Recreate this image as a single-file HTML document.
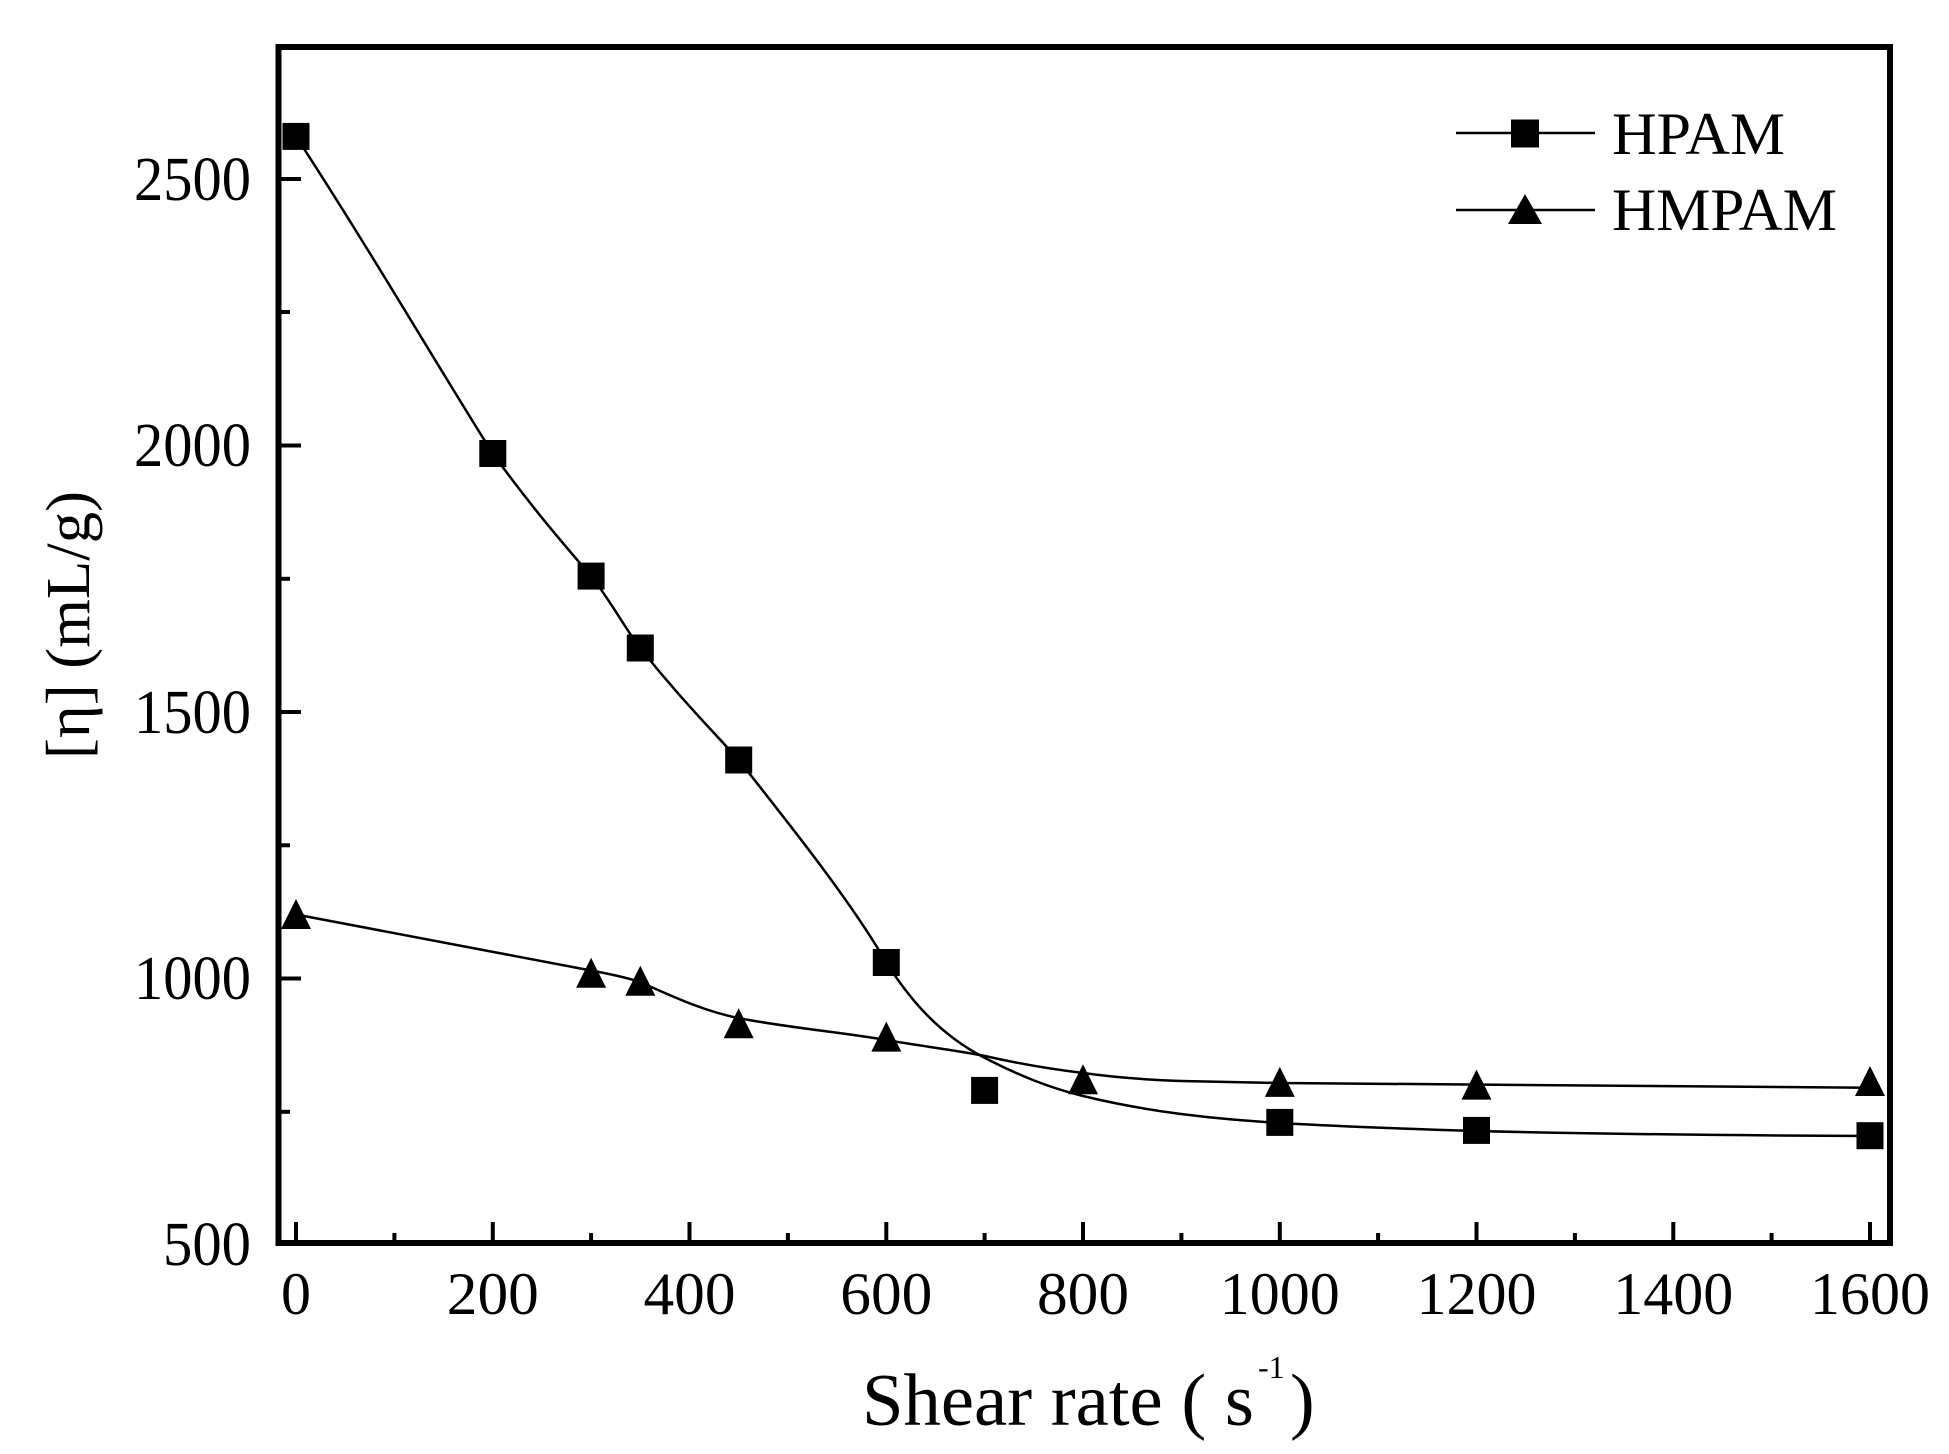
<!DOCTYPE html>
<html><head><meta charset="utf-8"><style>
html,body{margin:0;padding:0;background:#fff;}
svg{display:block;}
text{font-family:"Liberation Serif",serif;fill:#000;}
</style></head><body>
<svg width="1949" height="1454" viewBox="0 0 1949 1454" xmlns="http://www.w3.org/2000/svg">
<rect width="1949" height="1454" fill="#fff"/>
<rect x="278.5" y="47" width="1611.5" height="1196" fill="none" stroke="#000" stroke-width="6"/>
<g stroke="#000" stroke-width="4">
<line x1="296" y1="1243" x2="296" y2="1222"/>
<line x1="394.4" y1="1243" x2="394.4" y2="1233"/>
<line x1="492.8" y1="1243" x2="492.8" y2="1222"/>
<line x1="591.1" y1="1243" x2="591.1" y2="1233"/>
<line x1="689.5" y1="1243" x2="689.5" y2="1222"/>
<line x1="787.9" y1="1243" x2="787.9" y2="1233"/>
<line x1="886.3" y1="1243" x2="886.3" y2="1222"/>
<line x1="984.6" y1="1243" x2="984.6" y2="1233"/>
<line x1="1083" y1="1243" x2="1083" y2="1222"/>
<line x1="1181.4" y1="1243" x2="1181.4" y2="1233"/>
<line x1="1279.8" y1="1243" x2="1279.8" y2="1222"/>
<line x1="1378.1" y1="1243" x2="1378.1" y2="1233"/>
<line x1="1476.5" y1="1243" x2="1476.5" y2="1222"/>
<line x1="1574.9" y1="1243" x2="1574.9" y2="1233"/>
<line x1="1673.3" y1="1243" x2="1673.3" y2="1222"/>
<line x1="1771.6" y1="1243" x2="1771.6" y2="1233"/>
<line x1="1870" y1="1243" x2="1870" y2="1222"/>
<line x1="278" y1="179" x2="301" y2="179"/>
<line x1="278" y1="312" x2="290" y2="312"/>
<line x1="278" y1="445.5" x2="301" y2="445.5"/>
<line x1="278" y1="578.8" x2="290" y2="578.8"/>
<line x1="278" y1="712" x2="301" y2="712"/>
<line x1="278" y1="845.3" x2="290" y2="845.3"/>
<line x1="278" y1="978.5" x2="301" y2="978.5"/>
<line x1="278" y1="1111.8" x2="290" y2="1111.8"/>
</g>
<g font-size="60" text-anchor="middle">
<text x="296" y="1314">0</text>
<text x="492.8" y="1314" textLength="92" lengthAdjust="spacingAndGlyphs">200</text>
<text x="689.5" y="1314" textLength="92" lengthAdjust="spacingAndGlyphs">400</text>
<text x="886.3" y="1314" textLength="92" lengthAdjust="spacingAndGlyphs">600</text>
<text x="1083" y="1314" textLength="92" lengthAdjust="spacingAndGlyphs">800</text>
<text x="1279.8" y="1314" textLength="120" lengthAdjust="spacingAndGlyphs">1000</text>
<text x="1476.5" y="1314" textLength="120" lengthAdjust="spacingAndGlyphs">1200</text>
<text x="1673.3" y="1314" textLength="120" lengthAdjust="spacingAndGlyphs">1400</text>
<text x="1870" y="1314" textLength="120" lengthAdjust="spacingAndGlyphs">1600</text>
</g>
<g font-size="62" text-anchor="end">
<text x="251" y="200" textLength="117" lengthAdjust="spacingAndGlyphs">2500</text>
<text x="251" y="466" textLength="117" lengthAdjust="spacingAndGlyphs">2000</text>
<text x="251" y="733" textLength="117" lengthAdjust="spacingAndGlyphs">1500</text>
<text x="251" y="999" textLength="117" lengthAdjust="spacingAndGlyphs">1000</text>
<text x="251" y="1265" textLength="88" lengthAdjust="spacingAndGlyphs">500</text>
</g>
<text x="862" y="1425" font-size="74" textLength="392" lengthAdjust="spacingAndGlyphs">Shear rate ( s</text>
<text x="1258" y="1378" font-size="32">-1</text>
<text x="1290" y="1425" font-size="74">)</text>
<text transform="translate(89,625) rotate(-90)" font-size="62" text-anchor="middle" textLength="268" lengthAdjust="spacingAndGlyphs">[η] (mL/g)</text>
<g fill="none" stroke="#000" stroke-width="2.5" stroke-linejoin="round">
<path d="M296,136.4 C370,250 440,370 492.8,453.5 C530,505 560,540 591,576 C610,600 625,628 640,648 C680,698 710,728 738.7,760 C790,825 850,900 886,962 C910,1000 940,1035 985,1058 C1020,1076 1050,1088 1083,1096 C1120,1105 1150,1110 1181,1114 C1220,1119 1250,1121 1280,1123 C1350,1127 1410,1129 1476,1131 C1600,1134 1750,1135.5 1870,1136"/>
<path d="M296,914.5 L591,970.5 C610,974 625,977 640,982 C670,995 700,1010 738,1018 C790,1028 840,1032 886,1040 C920,1046 955,1050 985,1056 C1020,1064 1050,1069 1083,1073 C1120,1078 1150,1080 1181,1081 C1220,1082 1250,1082.5 1280,1083 C1500,1085 1700,1087 1870,1087.7"/>
</g>
<g fill="#000">
<rect x="282.5" y="122.9" width="27" height="27"/>
<rect x="479.3" y="440" width="27" height="27"/>
<rect x="577.6" y="562.6" width="27" height="27"/>
<rect x="626.8" y="634.5" width="27" height="27"/>
<rect x="725.2" y="746.5" width="27" height="27"/>
<rect x="872.8" y="949" width="27" height="27"/>
<rect x="971.1" y="1076.9" width="27" height="27"/>
<rect x="1266.3" y="1108.9" width="27" height="27"/>
<rect x="1463" y="1116.9" width="27" height="27"/>
<rect x="1856.5" y="1122.2" width="27" height="27"/>
</g>
<g fill="#000">
<polygon points="296,899 281,929 311,929"/>
<polygon points="591.1,957.7 576.1,987.7 606.1,987.7"/>
<polygon points="640.3,965.7 625.3,995.7 655.3,995.7"/>
<polygon points="738.7,1008.3 723.7,1038.3 753.7,1038.3"/>
<polygon points="886.3,1021.6 871.3,1051.6 901.3,1051.6"/>
<polygon points="1083,1064.3 1068,1094.3 1098,1094.3"/>
<polygon points="1279.8,1066.9 1264.8,1096.9 1294.8,1096.9"/>
<polygon points="1476.5,1069.6 1461.5,1099.6 1491.5,1099.6"/>
<polygon points="1870,1066 1855,1096 1885,1096"/>
</g>
<line x1="1456" y1="133" x2="1595" y2="133" stroke="#000" stroke-width="2.5"/>
<rect x="1511" y="119.5" width="28" height="28" fill="#000"/>
<text x="1612" y="154" font-size="60" textLength="173" lengthAdjust="spacingAndGlyphs">HPAM</text>
<line x1="1456" y1="210" x2="1595" y2="210" stroke="#000" stroke-width="2.5"/>
<polygon points="1525,194 1508,224 1542,224" fill="#000"/>
<text x="1612" y="230" font-size="60" textLength="225" lengthAdjust="spacingAndGlyphs">HMPAM</text>
</svg>
</body></html>
